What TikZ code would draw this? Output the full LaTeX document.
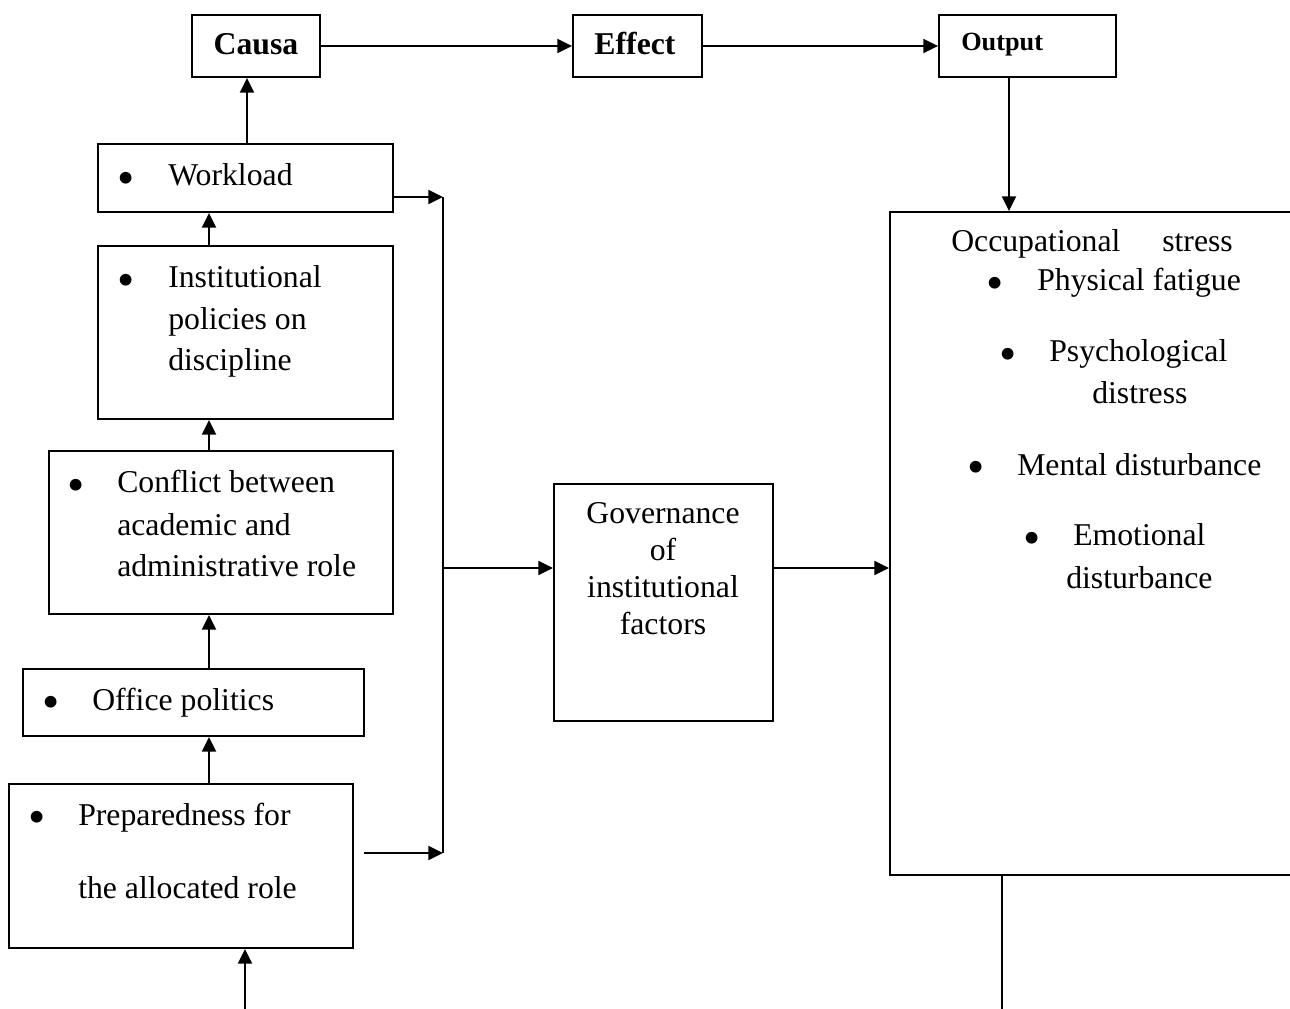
\documentclass[tikz,border=0pt]{standalone}
\usepackage{fontspec}
\setmainfont{Liberation Serif}
\usepackage{graphicx}
\usetikzlibrary{arrows.meta,fit}
\newcommand{\bigbul}{\raisebox{-6.2pt}{\scalebox{1.55}{•}}}
\begin{document}
\begin{tikzpicture}[x=0.75pt,y=-0.75pt,
  box/.style={draw, line width=1.4pt, inner sep=0pt},
  arr/.style={line width=1.4pt, -{Triangle[length=11pt,width=10.5pt]}},
  ln/.style={line width=1.4pt},
  txt/.style={inner sep=0pt, anchor=base west, font=\fontsize{23.8}{28}\selectfont},
  ctxt/.style={inner sep=0pt, anchor=base, font=\fontsize{23.8}{28}\selectfont},
  bul/.style={inner sep=0pt, anchor=base, font=\fontsize{23.8}{28}\selectfont},
  btxt/.style={inner sep=0pt, anchor=base, font=\fontsize{23.8}{28}\selectfont\bfseries},
]
\useasboundingbox (0,0) rectangle (1290,1009);

% top row boxes
\node[box, fit={(192,15) (320,77)}] (causa) {};
\node[box, fit={(573,15) (702,77)}] (effect) {};
\node[box, fit={(939,15) (1116,77)}] (output) {};
\node[btxt] (tcausa) at (256,55) {Causa};
\node[btxt] (teffect) at (635,55) {Effect};
\node[inner sep=0pt, anchor=base west, font=\fontsize{19.7}{24}\selectfont\bfseries] (toutput) at (961,51) {Output};

% left column boxes
\node[box, fit={(98,144) (393,212)}] (wl) {};
\node[box, fit={(98,246) (393,419)}] (inst) {};
\node[box, fit={(49,451) (393,614)}] (conf) {};
\node[box, fit={(23,669) (364,736)}] (office) {};
\node[box, fit={(9,784) (353,948)}] (prep) {};

% middle and right boxes
\node[box, fit={(554,484) (773,721)}] (gov) {};
\node[box, fit={(890,212) (1300,875)}] (occ) {};

% left texts
\node[bul] (b1) at (126,186) {\bigbul};
\node[txt] (t1) at (168,186) {Workload};
\node[bul] (b2) at (126,288) {\bigbul};
\node[txt] (t2a) at (168,288) {Institutional};
\node[txt] (t2b) at (168,330) {policies on};
\node[txt] (t2c) at (168,371) {discipline};
\node[bul] (b3) at (76,493) {\bigbul};
\node[txt] (t3a) at (117,493) {Conflict between};
\node[txt] (t3b) at (117,535) {academic and};
\node[txt] (t3c) at (117,576) {administrative role};
\node[bul] (b4) at (51,710) {\bigbul};
\node[txt] (t4) at (92,710) {Office politics};
\node[bul] (b5) at (37,825) {\bigbul};
\node[txt] (t5a) at (78,825) {Preparedness for};
\node[txt] (t5b) at (78,898) {the allocated role};

% governance text
\node[ctxt] (g1) at (663,523) {Governance};
\node[ctxt] (g2) at (663,560) {of};
\node[ctxt] (g3) at (663,597) {institutional};
\node[ctxt] (g4) at (663,634) {factors};

% occupational stress text
\node[txt] (o0a) at (951,252) {Occupational};
\node[txt] (o0b) at (1162,252) {stress};
\node[bul] (ob1) at (995,291) {\bigbul};
\node[txt] (o1) at (1037,291) {Physical fatigue};
\node[bul] (ob2) at (1008,362) {\bigbul};
\node[txt] (o2a) at (1049,362) {Psychological};
\node[txt] (o2b) at (1092,404) {distress};
\node[bul] (ob3) at (976,475) {\bigbul};
\node[txt] (o3) at (1017,475) {Mental disturbance};
\node[bul] (ob4) at (1032,546) {\bigbul};
\node[txt] (o4a) at (1073,546) {Emotional};
\node[txt] (o4b) at (1066,588) {disturbance};

% helper coordinates
\coordinate (axL) at (209,0);
\coordinate (axW) at (247,0);
\coordinate (busT) at (443,197);
\coordinate (busM) at (443,568);
\coordinate (busB) at (443,853);
\coordinate (prepOut) at (364,853);
\coordinate (oc) at (1009,0);
\coordinate (bot) at (245,1009);
\coordinate (bot2) at (1002,1009);

% connectors
\draw[arr] (causa) -- (effect);
\draw[arr] (effect) -- (output);
\draw[arr] (output.south -| oc) -- (occ.north -| oc);
\draw[arr] (wl.north -| axW) -- (causa.south -| axW);
\draw[arr] (inst.north -| axL) -- (wl.south -| axL);
\draw[arr] (conf.north -| axL) -- (inst.south -| axL);
\draw[arr] (office.north -| axL) -- (conf.south -| axL);
\draw[arr] (prep.north -| axL) -- (office.south -| axL);
\draw[arr] (bot) -- (prep.south -| bot);
\draw[arr] (wl.east |- busT) -- (busT);
\draw[ln] (busT) -- (busB);
\draw[arr] (prepOut) -- (busB);
\draw[arr] (busM) -- (gov.west |- busM);
\draw[arr] (gov.east |- busM) -- (occ.west |- busM);
\draw[ln] (occ.south -| bot2) -- (bot2);
\end{tikzpicture}
\end{document}
